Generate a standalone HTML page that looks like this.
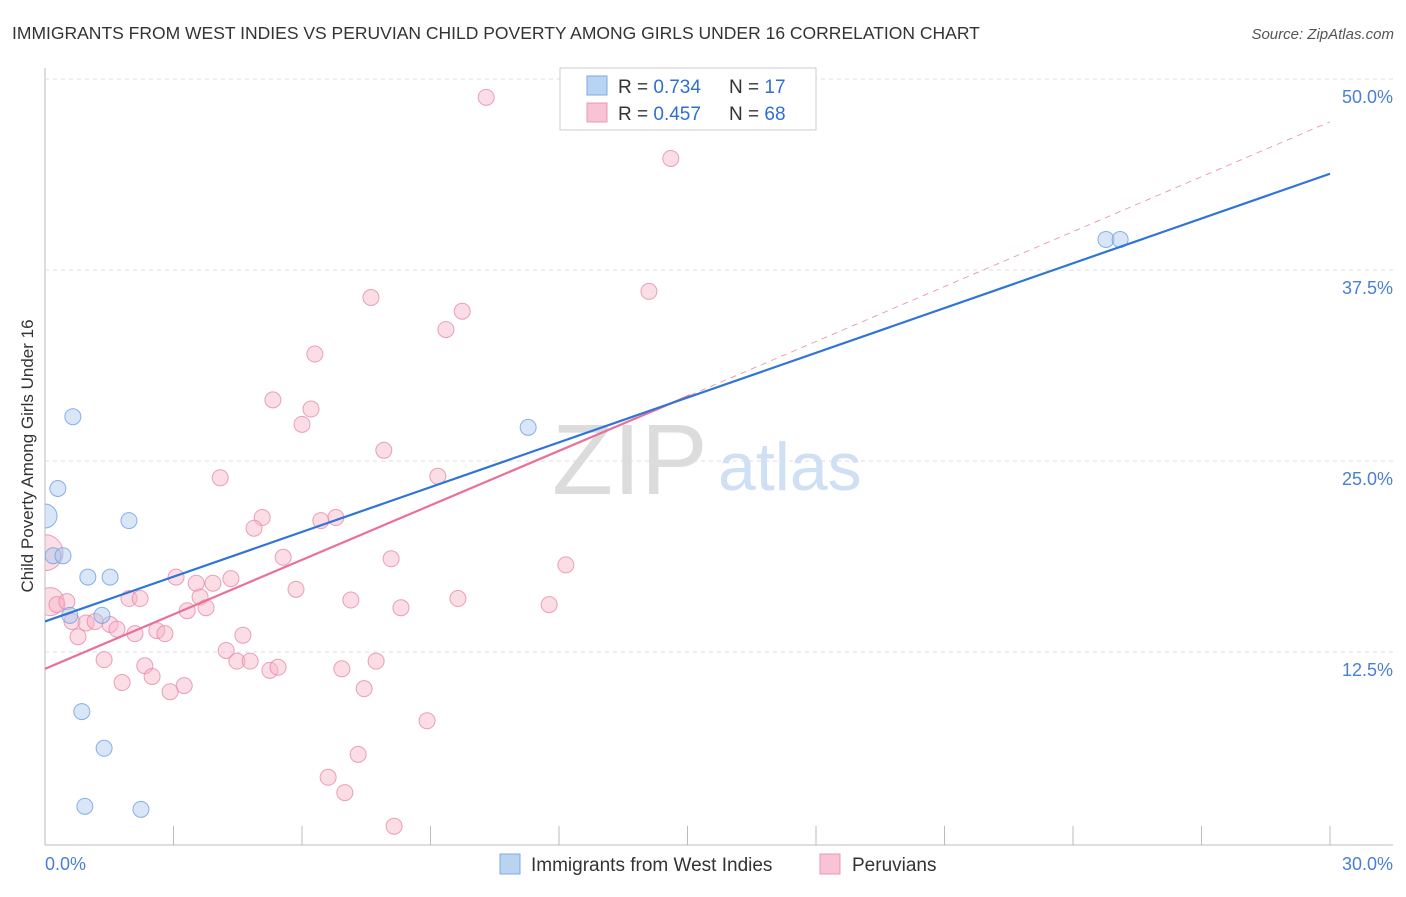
<!DOCTYPE html>
<html><head><meta charset="utf-8"><style>
body{margin:0;background:#fff;font-family:"Liberation Sans",sans-serif;}
svg text{font-family:"Liberation Sans",sans-serif;}
</style></head><body>
<svg id="chart" width="1406" height="892" xmlns="http://www.w3.org/2000/svg">
<defs><clipPath id="plotclip"><rect x="45" y="60" width="1360" height="785"/></clipPath></defs>
<text x="12" y="39" font-size="17.5" fill="#333">IMMIGRANTS FROM WEST INDIES VS PERUVIAN CHILD POVERTY AMONG GIRLS UNDER 16 CORRELATION CHART</text>
<text x="1394" y="39" font-size="15" fill="#555" text-anchor="end" font-style="italic">Source: ZipAtlas.com</text>
<g id="grid"></g>
<g>
<text x="552" y="494" font-size="100" fill="#dcdcdc" font-family="Liberation Serif,serif">ZIP</text>
<text x="718" y="490" font-size="68" fill="#cfe0f4">atlas</text>
</g>
<g id="marks" clip-path="url(#plotclip)"></g>
<text transform="translate(33,456) rotate(-90)" font-size="17" fill="#333" text-anchor="middle">Child Poverty Among Girls Under 16</text>
<text x="45" y="870" font-size="18" fill="#4a7fd4">0.0%</text>
<text x="1393" y="870" font-size="18" fill="#4a7fd4" text-anchor="end">30.0%</text>
<g>
<rect x="560" y="68" width="256" height="62" fill="#fff" stroke="#ccc"/>
<rect x="587" y="76" width="20" height="19" fill="#b9d3f3" stroke="#7ea8e0"/>
<rect x="587" y="103" width="20" height="19" fill="#f8c3d4" stroke="#e99ab4"/>
<text x="618" y="93" font-size="19" fill="#333">R = <tspan fill="#2f6fcf">0.734</tspan></text>
<text x="729" y="93" font-size="19" fill="#333">N = <tspan fill="#2f6fcf"> 17</tspan></text>
<text x="618" y="120" font-size="19" fill="#333">R = <tspan fill="#2f6fcf">0.457</tspan></text>
<text x="729" y="120" font-size="19" fill="#333">N = <tspan fill="#2f6fcf">68</tspan></text>
</g>
<g>
<rect x="500" y="854" width="20" height="20" fill="#b9d3f3" stroke="#7ea8e0"/>
<text x="531" y="871" font-size="19" fill="#333">Immigrants from West Indies</text>
<rect x="820" y="854" width="20" height="20" fill="#f8c3d4" stroke="#e99ab4"/>
<text x="852" y="871" font-size="19" fill="#333">Peruvians</text>
</g>
</svg>
<script>
const yTicks=[12.5,25.0,37.5,50.0];
const xTicks=[0,3,6,9,12,15,18,21,24,27,30];
const blueX=[0,0.19,0.42,0.30,0.65,0.58,1.0,1.52,1.33,0.86,1.38,0.93,2.24,1.96,11.28,24.77,25.10];
const blueY=[21.4,18.8,18.8,23.2,27.9,14.9,17.4,17.4,14.9,8.6,6.2,2.4,2.2,21.1,27.2,39.5,39.5];
const blueR=[12,8,8,8,8,8,8,8,8,8,8,8,8,8,8,8,8];
const pinkX=[10.30,14.61,14.10,7.61,9.74,9.36,6.30,5.32,6.21,6.00,7.91,9.17,4.09,5.07,6.79,6.44,4.88,5.56,8.08,12.16,3.06,4.34,3.53,3.92,5.86,1.96,2.22,3.62,7.14,9.64,11.77,8.31,3.32,3.76,0.12,0.28,0.51,0.63,0.96,1.17,1.52,1.68,2.10,2.61,2.80,0.77,4.62,4.23,1.38,4.48,4.79,7.73,2.33,5.25,5.44,6.93,2.50,1.80,3.25,2.92,7.45,8.92,7.31,6.61,7.00,8.15,0];
const pinkY=[48.8,44.8,36.1,35.7,34.8,33.6,32.0,29.0,28.4,27.4,25.7,24.0,23.9,21.3,21.3,21.1,20.6,18.7,18.6,18.2,17.4,17.3,17.0,17.0,16.6,16.0,16.0,16.1,15.9,16.0,15.6,15.4,15.2,15.4,15.8,15.6,15.8,14.5,14.4,14.5,14.3,14.0,13.7,13.9,13.7,13.5,13.6,12.6,12.0,11.9,11.9,11.9,11.6,11.3,11.5,11.4,10.9,10.5,10.3,9.9,10.1,8.0,5.8,4.3,3.3,1.1,19.0];
const blueLine=[[0,14.5],[30,43.8]];
const pinkLine=[[0,11.4],[15.06,29.3]];
const pinkDash=[[15.06,29.3],[30,47.2]];
const NS="http://www.w3.org/2000/svg";
const X=v=>45+v/30*1285, Y=v=>843-v/12.5*191;
const grid=document.getElementById('grid'), marks=document.getElementById('marks');
function mk(tag,attrs,parent){const e=document.createElementNS(NS,tag);for(const k in attrs)e.setAttribute(k,attrs[k]);parent.appendChild(e);return e;}
let ax=mk('line',{x1:45,y1:68,x2:45,y2:845,stroke:'#bbb'},grid);


let bx=mk('line',{x1:45,y1:845,x2:1393,y2:845,stroke:'#bbb'},grid);


yTicks.forEach(t=>{
 let l=mk('line',{x1:45,y1:Y(t),x2:1393,y2:Y(t),stroke:'#ddd','stroke-dasharray':'4,4'},grid);
 
 
 let tx=mk('text',{x:1393,y:Y(t)+24,'font-size':18,fill:'#4a7fd4','text-anchor':'end'},grid);
 tx.textContent=t.toFixed(1)+'%';
 
 
});
xTicks.forEach(t=>{
 let l=mk('line',{x1:X(t),y1:826,x2:X(t),y2:845,stroke:'#bbb'},grid);
 
 
});
function dots(xs,ys,fill,stroke,name,rf){
 xs.forEach((x,i)=>{
  let c=mk('circle',{cx:X(x),cy:Y(ys[i]),r:rf(i),fill:fill,'fill-opacity':0.45,stroke:stroke,'stroke-opacity':0.8,'stroke-width':1},marks);
  
  
 });
}
dots(pinkX,pinkY,'#f6b3c8','#e78aaa','peruvian-point',i=>i==66?18:(i==34?14:8));
dots(blueX,blueY,'#a8c7ee','#6d9fe0','west-indies-point',i=>blueR[i]);
let pd=mk('line',{x1:X(pinkDash[0][0]),y1:Y(pinkDash[0][1]),x2:X(pinkDash[1][0]),y2:Y(pinkDash[1][1]),stroke:'#e8a0b8','stroke-width':1,'stroke-dasharray':'6,5'},marks);


let pl=mk('line',{x1:X(pinkLine[0][0]),y1:Y(pinkLine[0][1]),x2:X(pinkLine[1][0]),y2:Y(pinkLine[1][1]),stroke:'#e8709a','stroke-width':2.2},marks);


let bl=mk('line',{x1:X(blueLine[0][0]),y1:Y(blueLine[0][1]),x2:X(blueLine[1][0]),y2:Y(blueLine[1][1]),stroke:'#2f74d6','stroke-width':2.2},marks);


</script>
</body></html>
